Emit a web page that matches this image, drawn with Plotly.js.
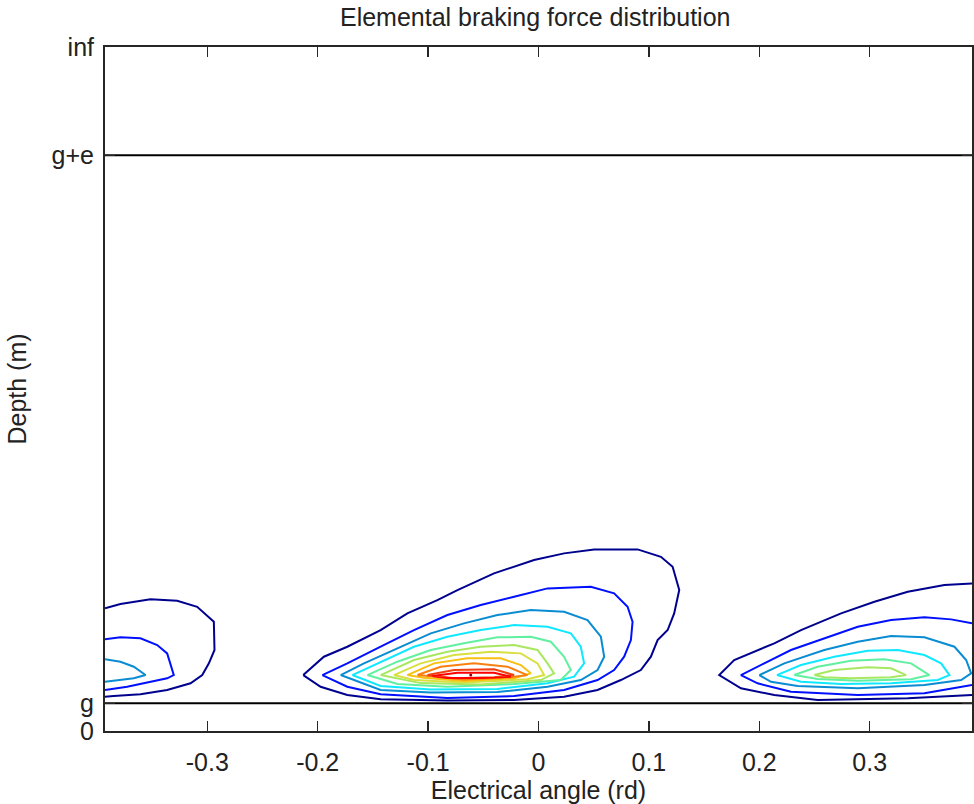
<!DOCTYPE html>
<html>
<head>
<meta charset="utf-8">
<script src="https://cdn.plot.ly/plotly-3.0.1.min.js"></script>
<style>html,body{margin:0;padding:0;background:#fff}#chart{width:974px;height:804px}</style>
</head>
<body>
<div id="chart"></div>
<script>
// Axis ranges and tick labels
const xRange = [-0.3927, 0.3927];
const yRange = [0, 1];
const xTickVals = [-0.3, -0.2, -0.1, 0, 0.1, 0.2, 0.3];
const xTickText = ['-0.3', '-0.2', '-0.1', '0', '0.1', '0.2', '0.3'];
const yTickVals = [0, 0.0405, 0.8417, 1];
const yTickText = ['0', 'g', 'g+e', 'inf'];

// Contour level colours (outermost -> innermost)
const levelColors = ['#00008F', '#0010FF', '#0A8CD2', '#10E8FF', '#60F0A0', '#A8E860',
                     '#D8E040', '#F8C010', '#F88010', '#F04010', '#FF0000', '#900000'];

// Central lobe contours
const c1x = [-0.2131,-0.1944,-0.1732,-0.1430,-0.1188,-0.0916,-0.0734,-0.0403,-0.0040,0.0232,0.0504,0.0898,0.1109,0.1215,0.1275,0.1229,0.1170,0.1079,0.1018,0.0927,0.0746,0.0535,0.0232,-0.0221,-0.0825,-0.1430,-0.1732,-0.1974];
const c1y = [0.0818,0.1086,0.1232,0.1476,0.1720,0.1914,0.2061,0.2305,0.2499,0.2597,0.2655,0.2655,0.2547,0.2401,0.2061,0.1720,0.1476,0.1330,0.1086,0.0891,0.0745,0.0599,0.0501,0.0453,0.0446,0.0463,0.0526,0.0647];
const c2x = [-0.1958,-0.1732,-0.1430,-0.1128,-0.0825,-0.0523,-0.0221,0.0082,0.0474,0.0685,0.0807,0.0852,0.0837,0.0776,0.0685,0.0535,0.0232,-0.0221,-0.0825,-0.1430,-0.1732];
const c2y = [0.0818,0.0989,0.1232,0.1476,0.1695,0.1841,0.1963,0.2085,0.2109,0.2012,0.1816,0.1597,0.1330,0.1086,0.0891,0.0745,0.0599,0.0511,0.0482,0.0536,0.0647];
const c3x = [-0.1792,-0.1581,-0.1278,-0.0976,-0.0675,-0.0372,-0.0070,0.0232,0.0444,0.0565,0.0595,0.0535,0.0383,0.0082,-0.0372,-0.0976,-0.1430];
const c3y = [0.0818,0.0989,0.1209,0.1428,0.1574,0.1695,0.1768,0.1743,0.1622,0.1378,0.1086,0.0891,0.0745,0.0647,0.0570,0.0563,0.0599];
const c4x = [-0.1686,-0.1430,-0.1128,-0.0825,-0.0523,-0.0221,0.0082,0.0293,0.0383,0.0413,0.0323,0.0082,-0.0372,-0.0976,-0.1430];
const c4y = [0.0818,0.1013,0.1232,0.1378,0.1476,0.1549,0.1524,0.1428,0.1232,0.0989,0.0794,0.0697,0.0614,0.0606,0.0658];
const c5x = [-0.1550,-0.1278,-0.0976,-0.0675,-0.0372,-0.0070,0.0112,0.0232,0.0293,0.0202,-0.0221,-0.0825,-0.1278];
const c5y = [0.0818,0.1013,0.1184,0.1282,0.1369,0.1378,0.1305,0.1086,0.0891,0.0745,0.0687,0.0647,0.0687];
const c6x = [-0.1430,-0.1128,-0.0825,-0.0523,-0.0221,-0.0009,0.0082,0.0141,0.0021,-0.0523,-0.1067];
const c6y = [0.0818,0.1038,0.1159,0.1232,0.1257,0.1184,0.0989,0.0843,0.0745,0.0680,0.0700];
const c7x = [-0.1309,-0.1067,-0.0765,-0.0432,-0.0160,-0.0009,0.0051,-0.0100,-0.0675,-0.1128];
const c7y = [0.0818,0.0989,0.1111,0.1159,0.1135,0.0989,0.0818,0.0756,0.0709,0.0745];
const c8x = [-0.1188,-0.0947,-0.0644,-0.0342,-0.0160,-0.0070,-0.0221,-0.0675,-0.1037];
const c8y = [0.0818,0.0989,0.1062,0.1062,0.0964,0.0843,0.0770,0.0731,0.0779];
const c9x = [-0.1097,-0.0886,-0.0584,-0.0281,-0.0100,-0.0251,-0.0675,-0.0976];
const c9y = [0.0818,0.0940,0.0989,0.0940,0.0818,0.0785,0.0753,0.0794];
const c10x = [-0.1006,-0.0765,-0.0403,-0.0221,-0.0403,-0.0765];
const c10y = [0.0818,0.0891,0.0902,0.0818,0.0785,0.0770];
const c11x = [-0.0961,-0.0734,-0.0403,-0.0251,-0.0523,-0.0825];
const c11y = [0.0804,0.0852,0.0852,0.0794,0.0775,0.0775];
const c12x = [-0.0614];
const c12y = [0.0818];

// Left lobe contours (cut by the left edge)
const l1x = [-0.3927,-0.3787,-0.3515,-0.3273,-0.3092,-0.2986,-0.2941,-0.2935,-0.2986,-0.3046,-0.3152,-0.3364,-0.3606,-0.3848,-0.3927];
const l1y = [0.1793,0.1856,0.1925,0.1904,0.1816,0.1670,0.1597,0.1184,0.0989,0.0818,0.0697,0.0599,0.0536,0.0511,0.0501];
const l2x = [-0.3927,-0.3787,-0.3606,-0.3454,-0.3364,-0.3334,-0.3304,-0.3364,-0.3515,-0.3726,-0.3927];
const l2y = [0.1340,0.1369,0.1355,0.1257,0.1135,0.0989,0.0818,0.0770,0.0720,0.0647,0.0599];
const l3x = [-0.3927,-0.3787,-0.3666,-0.3560,-0.3666,-0.3817,-0.3927];
const l3y = [0.1048,0.1013,0.0940,0.0818,0.0770,0.0735,0.0720];

// Right lobe contours
const r1x = [0.3927,0.3677,0.3345,0.3043,0.2741,0.2378,0.2136,0.1985,0.1773,0.1637,0.1834,0.2136,0.2529,0.3345,0.3927];
const r1y = [0.2158,0.2134,0.2036,0.1890,0.1720,0.1476,0.1282,0.1184,0.1038,0.0818,0.0624,0.0526,0.0453,0.0478,0.0526];
const r2x = [0.3927,0.3738,0.3496,0.3194,0.2892,0.2589,0.2287,0.2045,0.1834,0.1985,0.2287,0.2892,0.3496,0.3927];
const r2y = [0.1574,0.1632,0.1662,0.1622,0.1524,0.1355,0.1184,0.0989,0.0818,0.0697,0.0574,0.0526,0.0551,0.0672];
const r3x = [0.2000,0.2227,0.2589,0.2892,0.3194,0.3496,0.3768,0.3874,0.3919,0.3829,0.3496,0.2892,0.2348,0.2106];
const r3y = [0.0818,0.0989,0.1184,0.1305,0.1388,0.1369,0.1232,0.1038,0.0843,0.0745,0.0672,0.0624,0.0658,0.0720];
const r4x = [0.2160,0.2378,0.2680,0.2983,0.3255,0.3496,0.3647,0.3723,0.3617,0.3194,0.2741,0.2378];
const r4y = [0.0818,0.0964,0.1086,0.1173,0.1184,0.1111,0.0989,0.0818,0.0745,0.0697,0.0687,0.0720];
const r5x = [0.2317,0.2529,0.2831,0.3133,0.3375,0.3541,0.3375,0.2892,0.2529];
const r5y = [0.0818,0.0940,0.1027,0.1048,0.0989,0.0818,0.0756,0.0735,0.0760];
const r6x = [0.2499,0.2680,0.2983,0.3194,0.3330,0.3194,0.2831,0.2589];
const r6y = [0.0818,0.0891,0.0931,0.0916,0.0818,0.0785,0.0770,0.0785];

const contours = [
  {x: c1x, y: c1y, lv: 0, closed: true}, {x: c2x, y: c2y, lv: 1, closed: true},
  {x: c3x, y: c3y, lv: 2, closed: true}, {x: c4x, y: c4y, lv: 3, closed: true},
  {x: c5x, y: c5y, lv: 4, closed: true}, {x: c6x, y: c6y, lv: 5, closed: true},
  {x: c7x, y: c7y, lv: 6, closed: true}, {x: c8x, y: c8y, lv: 7, closed: true},
  {x: c9x, y: c9y, lv: 8, closed: true}, {x: c10x, y: c10y, lv: 9, closed: true},
  {x: c11x, y: c11y, lv: 10, closed: true},
  {x: l1x, y: l1y, lv: 0, closed: false}, {x: l2x, y: l2y, lv: 1, closed: false},
  {x: l3x, y: l3y, lv: 2, closed: false},
  {x: r1x, y: r1y, lv: 0, closed: false}, {x: r2x, y: r2y, lv: 1, closed: false},
  {x: r3x, y: r3y, lv: 2, closed: true}, {x: r4x, y: r4y, lv: 3, closed: true},
  {x: r5x, y: r5y, lv: 4, closed: true}, {x: r6x, y: r6y, lv: 5, closed: true}
];

const traces = contours.map(c => ({
  type: 'scatter', mode: 'lines',
  x: c.closed ? c.x.concat([c.x[0]]) : c.x,
  y: c.closed ? c.y.concat([c.y[0]]) : c.y,
  line: {color: levelColors[c.lv], width: 2},
  hoverinfo: 'skip', showlegend: false
}));

// innermost peak point
traces.push({type: 'scatter', mode: 'markers', x: c12x, y: c12y,
  marker: {color: levelColors[11], size: 3}, hoverinfo: 'skip', showlegend: false});

// boundary lines at g and g+e
[1, 2].forEach(i => traces.push({
  type: 'scatter', mode: 'lines', x: xRange, y: [yTickVals[i], yTickVals[i]],
  line: {color: '#000000', width: 2}, hoverinfo: 'skip', showlegend: false
}));

const font = {family: 'Liberation Sans, Arial, sans-serif', size: 25, color: '#222222'};

const axisCommon = {
  showline: true, mirror: 'ticks', linecolor: '#262626', linewidth: 2,
  ticks: 'inside', ticklen: 10, tickwidth: 1.5, tickcolor: '#262626',
  showgrid: false, zeroline: false, tickfont: font
};

const layout = {
  width: 974, height: 804,
  margin: {l: 105, r: 2, t: 47, b: 73},
  paper_bgcolor: '#ffffff', plot_bgcolor: '#ffffff',
  font: font,
  title: {text: 'Elemental braking force distribution', font: font,
          x: 0.5495, xanchor: 'center', y: 1 - 17 / 804, yanchor: 'middle'},
  xaxis: Object.assign({}, axisCommon, {
    range: xRange, tickmode: 'array', tickvals: xTickVals, ticktext: xTickText,
    ticklabelstandoff: 8,
    title: {text: 'Electrical angle (rd)', font: font, standoff: 6}
  }),
  yaxis: Object.assign({}, axisCommon, {
    range: yRange, tickmode: 'array', tickvals: yTickVals, ticktext: yTickText,
    ticklabelstandoff: 4,
    title: {text: 'Depth (m)', font: font, standoff: 18}
  })
};

Plotly.newPlot('chart', traces, layout, {staticPlot: true, displayModeBar: false});
</script>
</body>
</html>
